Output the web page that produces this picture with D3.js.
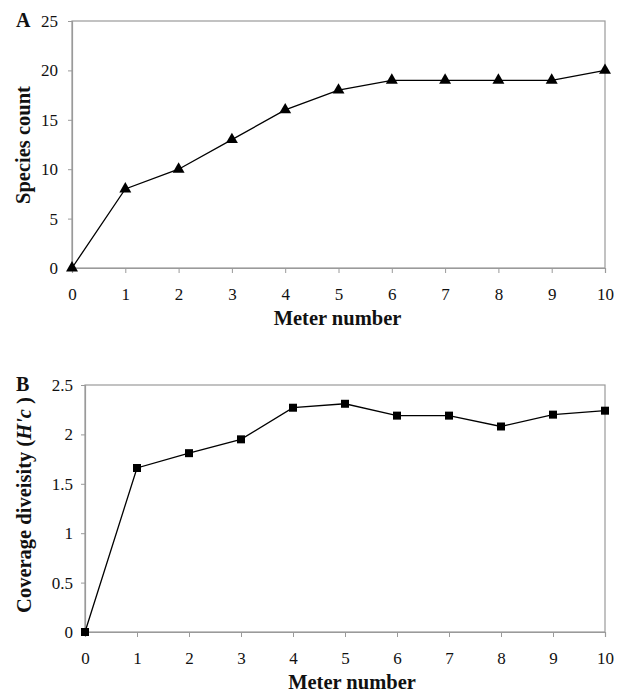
<!DOCTYPE html>
<html>
<head>
<meta charset="utf-8">
<script src="https://cdn.jsdelivr.net/npm/d3@7"></script>
<style>
  body { margin: 0; background: #fff; }
  text { font-family: "Liberation Serif", "Times New Roman", serif; fill: #111; }
</style>
</head>
<body>
<div id="chart"></div>
<script>
// data
const meters = [0, 1, 2, 3, 4, 5, 6, 7, 8, 9, 10];
const speciesCount = [0, 8, 10, 13, 16, 18, 19, 19, 19, 19, 20];
const coverageDiversity = [0, 1.66, 1.81, 1.95, 2.27, 2.31, 2.19, 2.19, 2.08, 2.20, 2.24];
const yTicksA = [0, 5, 10, 15, 20, 25];
const yTicksB = [0, 0.5, 1, 1.5, 2, 2.5];

const width = 625, height = 694;

const svg = d3.select("#chart")
    .append("svg")
    .attr("width", width)
    .attr("height", height);

// draws one panel: box, ticks, line and markers
function drawPanel(opts) {
    const x = d3.scaleLinear().domain([0, 10]).range([opts.left, opts.right]);
    const y = d3.scaleLinear().domain([0, opts.yMax]).range([opts.bottom, opts.top]);
    const g = svg.append("g");

    // plot frame (gray)
    g.append("rect")
        .attr("x", opts.left)
        .attr("y", opts.top)
        .attr("width", opts.right - opts.left)
        .attr("height", opts.bottom - opts.top)
        .attr("fill", "none")
        .attr("stroke", "#9a9a9a")
        .attr("stroke-width", 1.2);

    // x axis
    const xAxis = g.append("g")
        .attr("transform", "translate(0," + opts.bottom + ")")
        .call(d3.axisBottom(x).tickValues(meters).tickSize(5).tickFormat(d3.format("d")));
    xAxis.select(".domain").attr("stroke", "#9a9a9a").attr("stroke-width", 1.2);
    xAxis.selectAll(".tick line").attr("stroke", "#9a9a9a");
    xAxis.selectAll("text")
        .attr("y", 32).attr("dy", null)
        .style("font-size", "17px").attr("fill", "#111");

    // y axis
    const yAxis = g.append("g")
        .attr("transform", "translate(" + opts.left + ",0)")
        .call(d3.axisLeft(y).tickValues(opts.yTicks).tickSize(4).tickPadding(opts.yPad).tickFormat(d => String(d)));
    yAxis.select(".domain").attr("stroke", "#9a9a9a").attr("stroke-width", 1.2);
    yAxis.selectAll(".tick line").attr("stroke", "#9a9a9a");
    yAxis.selectAll("text").style("font-size", "17px").attr("fill", "#111");

    const pts = meters.map((m, i) => [x(m), y(opts.values[i])]);

    g.append("path")
        .attr("d", d3.line()(pts))
        .attr("fill", "none")
        .attr("stroke", "#000")
        .attr("stroke-width", 1.3);

    g.selectAll(".mark")
        .data(pts)
        .join("path")
        .attr("class", "mark")
        .attr("transform", d => "translate(" + d[0] + "," + d[1] + ")")
        .attr("d", d3.symbol().type(opts.symbol).size(opts.symbolSize))
        .attr("fill", "#000");

    // x title
    g.append("text")
        .attr("x", (opts.left + opts.right) / 2 + opts.titleShift)
        .attr("y", opts.bottom + 57)
        .attr("text-anchor", "middle")
        .style("font-size", "20.5px")
        .style("font-weight", "bold")
        .text("Meter number");

    // panel letter
    g.append("text")
        .attr("x", 16)
        .attr("y", opts.top + 6)
        .style("font-size", "20px")
        .style("font-weight", "bold")
        .text(opts.letter);

    return g;
}

const gA = drawPanel({
    left: 72, right: 605, top: 21, bottom: 268,
    yMax: 25, yTicks: yTicksA, values: speciesCount, yPad: 10, titleShift: -1,
    symbol: d3.symbolTriangle, symbolSize: 62, letter: "A"
});

gA.append("text")
    .attr("transform", "translate(30,145) rotate(-90)")
    .attr("text-anchor", "middle")
    .style("font-size", "20.5px")
    .style("font-weight", "bold")
    .text("Species count");

const gB = drawPanel({
    left: 85, right: 605, top: 385, bottom: 632,
    yMax: 2.5, yTicks: yTicksB, values: coverageDiversity, yPad: 8, titleShift: 7,
    symbol: d3.symbolSquare, symbolSize: 64, letter: "B"
});

const yLabB = gB.append("text")
    .attr("transform", "translate(31,505) rotate(-90)")
    .attr("text-anchor", "middle")
    .style("font-size", "20.5px")
    .style("font-weight", "bold");
yLabB.append("tspan").text("Coverage diveisity (");
yLabB.append("tspan").style("font-style", "italic").text("H'c");
yLabB.append("tspan").text(" )");
</script>
</body>
</html>
